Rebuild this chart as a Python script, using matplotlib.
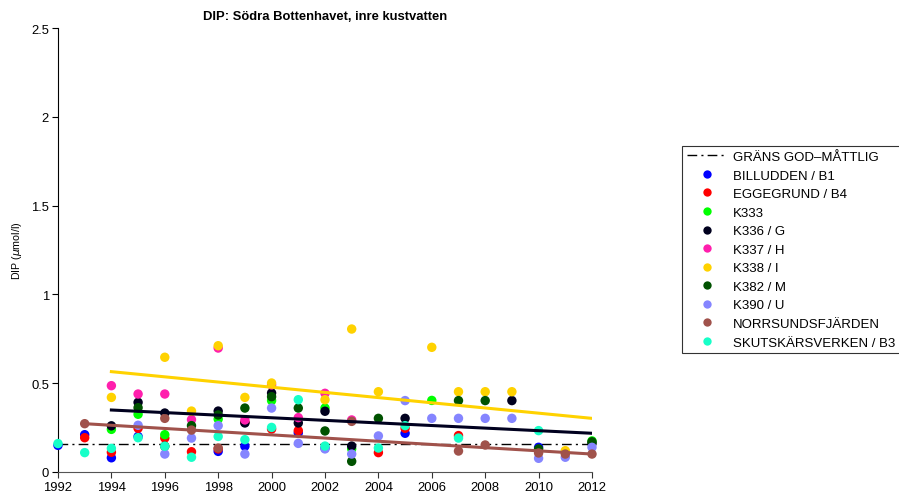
import matplotlib
matplotlib.use("Agg")
import matplotlib.pyplot as plt
from matplotlib.ticker import FormatStrFormatter
from matplotlib.lines import Line2D

plt.rcParams["font.family"] = ["Liberation Sans", "DejaVu Sans"]

# station data (year, DIP umol/l)
billudden_yr = [1992, 1993, 1994, 1995, 1998, 1999, 2001, 2002, 2005, 2010]
billudden_v  = [0.15, 0.21, 0.08, 0.20, 0.116, 0.145, 0.22, 0.135, 0.218, 0.139]

eggegrund_yr = [1993, 1994, 1995, 1996, 1997, 1998, 1999, 2000, 2001, 2004, 2005, 2007]
eggegrund_v  = [0.193, 0.111, 0.246, 0.191, 0.114, 0.13, 0.28, 0.242, 0.233, 0.109, 0.246, 0.205]

k333_yr = [1994, 1995, 1996, 1998, 2000, 2002, 2003, 2006, 2012]
k333_v  = [0.24, 0.325, 0.21, 0.298, 0.402, 0.36, 0.13, 0.403, 0.175]

k336_yr = [1994, 1995, 1996, 1998, 1999, 2000, 2001, 2002, 2003, 2005, 2009, 2012]
k336_v  = [0.26, 0.392, 0.332, 0.343, 0.276, 0.445, 0.276, 0.342, 0.146, 0.302, 0.402, 0.16]

k337_yr = [1994, 1995, 1996, 1997, 1998, 1999, 2000, 2001, 2002, 2003]
k337_v  = [0.486, 0.439, 0.439, 0.295, 0.698, 0.293, 0.49, 0.306, 0.443, 0.293]

k338_yr = [1994, 1996, 1997, 1998, 1999, 2000, 2002, 2003, 2004, 2006, 2007, 2008, 2009, 2011]
k338_v  = [0.42, 0.646, 0.343, 0.711, 0.42, 0.501, 0.407, 0.805, 0.452, 0.702, 0.452, 0.452, 0.452, 0.12]

k382_yr = [1995, 1996, 1997, 1998, 1999, 2000, 2001, 2002, 2003, 2004, 2007, 2008, 2010, 2012]
k382_v  = [0.362, 0.145, 0.261, 0.321, 0.36, 0.424, 0.36, 0.231, 0.06, 0.302, 0.402, 0.402, 0.13, 0.17]

k390_yr = [1995, 1996, 1997, 1998, 1999, 2000, 2001, 2002, 2003, 2004, 2005, 2006, 2007, 2008, 2009, 2010, 2011, 2012]
k390_v  = [0.263, 0.101, 0.191, 0.261, 0.101, 0.36, 0.161, 0.13, 0.101, 0.203, 0.402, 0.302, 0.302, 0.302, 0.302, 0.077, 0.083, 0.139]

norrsund_yr = [1993, 1996, 1997, 1998, 2003, 2007, 2008, 2010, 2011, 2012]
norrsund_v  = [0.272, 0.302, 0.236, 0.135, 0.285, 0.118, 0.152, 0.107, 0.101, 0.101]

skutskar_yr = [1992, 1993, 1994, 1995, 1996, 1997, 1998, 1999, 2000, 2001, 2002, 2004, 2005, 2007, 2010]
skutskar_v  = [0.16, 0.109, 0.133, 0.193, 0.145, 0.083, 0.2, 0.182, 0.251, 0.407, 0.146, 0.135, 0.261, 0.191, 0.233]

# trend lines (start/end)
k338_trend_yr, k338_trend_v = [1994, 2012], [0.565, 0.302]
k336_trend_yr, k336_trend_v = [1994, 2012], [0.349, 0.218]
norr_trend_yr, norr_trend_v = [1993, 2012], [0.272, 0.101]

limit_yr = [1992, 2012]
limit_v = [0.155, 0.155]

stations = [
    ("BILLUDDEN / B1", billudden_yr, billudden_v, "#0000ff"),
    ("EGGEGRUND / B4", eggegrund_yr, eggegrund_v, "#ff0000"),
    ("K333", k333_yr, k333_v, "#00ff00"),
    ("K336 / G", k336_yr, k336_v, "#00001e"),
    ("K337 / H", k337_yr, k337_v, "#ff1fad"),
    ("K338 / I", k338_yr, k338_v, "#ffd200"),
    ("K382 / M", k382_yr, k382_v, "#005200"),
    ("K390 / U", k390_yr, k390_v, "#8585ff"),
    ("NORRSUNDSFJÄRDEN", norrsund_yr, norrsund_v, "#a0524b"),
    ("SKUTSKÄRSVERKEN / B3", skutskar_yr, skutskar_v, "#17ffc8"),
]

fig = plt.figure(figsize=(8.99, 5.02), dpi=100)
ax = fig.add_axes([0.0645, 0.0578, 0.594, 0.8844])

ax.plot(limit_yr, limit_v, color="black", lw=1, linestyle=(0, (7, 3, 1.5, 3)), zorder=1)

for name, yrs, vals, c in stations:
    ax.scatter(yrs, vals, s=46, color=c, edgecolors="none", clip_on=False, zorder=3)

ax.plot(k338_trend_yr, k338_trend_v, color="#ffd200", lw=2.2, zorder=4)
ax.plot(k336_trend_yr, k336_trend_v, color="#00001e", lw=2.2, zorder=4)
ax.plot(norr_trend_yr, norr_trend_v, color="#a0524b", lw=2.2, zorder=4)

ax.set_xlim(1992, 2012)
ax.set_ylim(0, 2.5)
ax.set_xticks(range(1992, 2013, 2))
ax.set_yticks([0, 0.5, 1, 1.5, 2, 2.5])
ax.yaxis.set_major_formatter(FormatStrFormatter("%g"))
ax.tick_params(labelsize=9.4, length=4, width=0.8, direction="out", pad=2.5)
ax.tick_params(axis="x", colors="#333333", labelcolor="black")
for s in ["top", "right"]:
    ax.spines[s].set_visible(False)
ax.spines["bottom"].set_color("#555555")

ax.set_ylabel(r"DIP ($\mu$mol/l)", fontsize=7.7)
ax.yaxis.set_label_coords(-0.064, 0.5)
ax.set_title("DIP: Södra Bottenhavet, inre kustvatten", fontsize=9.4, fontweight="bold", pad=6.5)

handles = [Line2D([], [], color="black", lw=1, linestyle=(0, (7, 3, 1.5, 3)))]
labels = ["GRÄNS GOD\u2013MÅTTLIG"]
for name, yrs, vals, c in stations:
    handles.append(Line2D([], [], marker="o", linestyle="none", markersize=6,
                          markerfacecolor=c, markeredgecolor="none"))
    labels.append(name)
leg = fig.legend(handles, labels, loc="upper left", bbox_to_anchor=(0.759, 0.707),
                 fontsize=9.5, frameon=True, fancybox=False, edgecolor="black",
                 borderpad=0.35, labelspacing=0.48, handlelength=3.0, handletextpad=0.5,
                 borderaxespad=0)
leg.get_frame().set_linewidth(0.8)

fig.savefig("out.png", dpi=100)
